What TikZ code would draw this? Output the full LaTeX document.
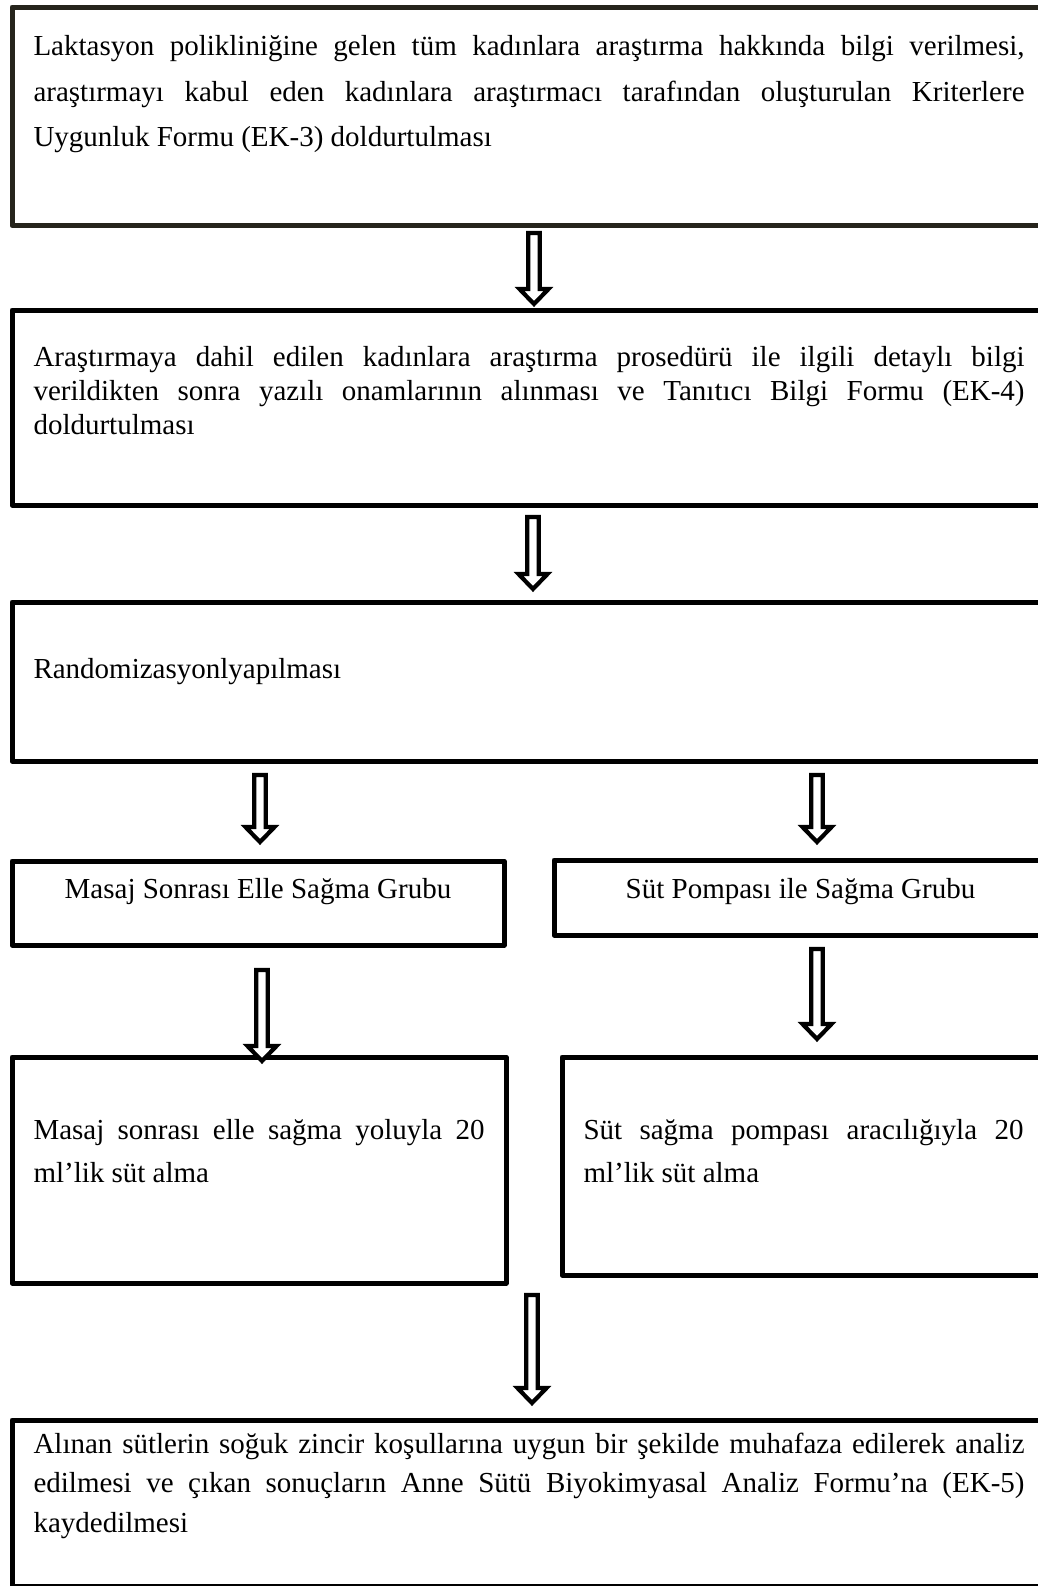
\documentclass[tikz,border=0pt]{standalone}
\usepackage{fontspec}
\setmainfont{Liberation Serif}
\usetikzlibrary{calc}

\definecolor{boxone}{RGB}{38,36,28}

%Text of a box: height, width, space above, line skip, text
\newcommand\boxtext[5]{\parbox[t][#1][t]{#2}{\fontsize{14.5pt}{#4}\selectfont\sloppy\vspace*{#3}\rule{0pt}{11pt}#5}}

%Hollow arrow from a start point down to its tip
\newcommand\hollowarrow[2]{%
\draw[hollow] let \p1=(#1), \p2=(#2) in
   (\x1-2.9pt,\y1) -- (\x1+2.9pt,\y1) -- (\x1+2.9pt,\y2+7.5pt)
   -- (\x1+7.25pt,\y2+7.5pt) -- (\x1,\y2) -- (\x1-7.25pt,\y2+7.5pt)
   -- (\x1-2.9pt,\y2+7.5pt) -- cycle;}

\begin{document}
\begin{tikzpicture}[x=0.5pt,y=-0.5pt,
     box/.style={draw,line width=2.5pt,line join=round,anchor=north west,inner ysep=0pt,inner xsep=10.75pt},
     hollow/.style={draw,fill=white,line width=2.1pt}
     ]
\useasboundingbox (0,0) rectangle (1038,1586);

%Width of the text in the wide boxes
\def \tw{495.5pt}

%Draw the boxes
\node[box,draw=boxone] (b1) at (9.5,4.5) {\boxtext{109.25pt}{\tw}{13.25pt}{22.75pt}{Laktasyon polikliniğine gelen tüm kadınlara araştırma hakkında bilgi verilmesi,\linebreak araştırmayı kabul eden kadınlara araştırmacı tarafından oluşturulan Kriterlere\linebreak Uygunluk Formu (EK-3) doldurtulması}};

\node[box] (b2) at (9.5,307.5) {\boxtext{97.5pt}{\tw}{17pt}{17.2pt}{Araştırmaya dahil edilen kadınlara araştırma prosedürü ile ilgili detaylı bilgi\linebreak verildikten sonra yazılı onamlarının alınması ve Tanıtıcı Bilgi Formu (EK-4)\linebreak doldurtulması}};

\node[box] (b3) at (9.5,599.5) {\boxtext{79.5pt}{\tw}{27pt}{17pt}{Randomizasyonlyapılması}};

%The two groups
\node[box,inner xsep=0pt] (b4l) at (9.5,858.5) {\boxtext{42pt}{246pt}{7.5pt}{17pt}{\centering Masaj Sonrası Elle Sağma Grubu}};
\node[box,inner xsep=0pt] (b4r) at (551.5,857.5) {\boxtext{37.5pt}{246.5pt}{8pt}{17pt}{\centering Süt Pompası ile Sağma Grubu}};

\node[box] (b5l) at (9.5,1054.5) {\boxtext{113pt}{225.5pt}{30pt}{21.75pt}{Masaj sonrası elle sağma yoluyla 20\linebreak ml’lik süt alma}};
\node[box] (b5r) at (559.5,1054.5) {\boxtext{109pt}{220pt}{30pt}{21.75pt}{Süt sağma pompası aracılığıyla 20\linebreak ml’lik süt alma}};

\node[box] (b6) at (9.5,1417.5) {\boxtext{83.25pt}{\tw}{5.5pt}{19.75pt}{Alınan sütlerin soğuk zincir koşullarına uygun bir şekilde muhafaza edilerek analiz\linebreak edilmesi ve çıkan sonuçların Anne Sütü Biyokimyasal Analiz Formu’na (EK-5)\linebreak kaydedilmesi}};

%Start points of the arrows
\coordinate (a1) at (534,233);
\coordinate (a2) at (533,517);
\coordinate (a3l) at (260,775);
\coordinate (a3r) at (817,775);
\coordinate (a4l) at (262,970);
\coordinate (a4r) at (817,949);
\coordinate (a5) at (532,1295);

%Draw the arrows
\hollowarrow{a1}{$(b2.north -| a1)+(0pt,1.75pt)$}
\hollowarrow{a2}{$(b3.north -| a2)+(0pt,5.25pt)$}
\hollowarrow{a3l}{$(b4l.north -| a3l)+(0pt,8.25pt)$}
\hollowarrow{a3r}{$(b4r.north -| a3r)+(0pt,7.75pt)$}
\hollowarrow{a4l}{$(b5l.north -| a4l)+(0pt,-3.25pt)$}
\hollowarrow{a4r}{$(b5r.north -| a4r)+(0pt,7.75pt)$}
\hollowarrow{a5}{$(b6.north -| a5)+(0pt,7.25pt)$}
\end{tikzpicture}
\end{document}
